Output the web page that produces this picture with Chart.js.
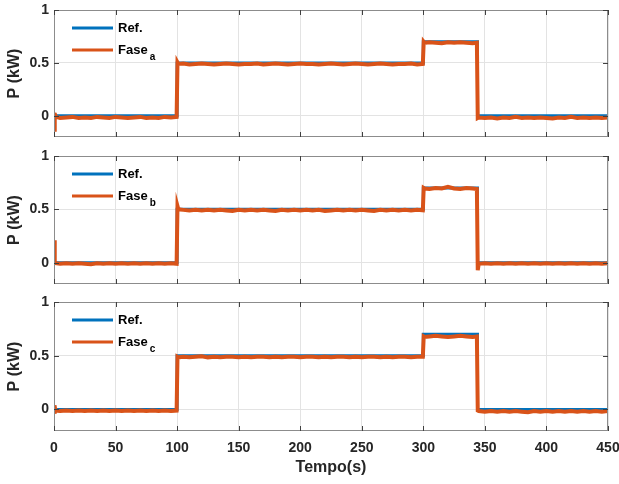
<!DOCTYPE html>
<html>
<head>
<meta charset="utf-8">
<script src="https://cdn.jsdelivr.net/npm/chart.js@4/dist/chart.umd.min.js"></script>
<style>
  body { margin: 0; background: #fff; }
  #wrap { position: relative; width: 619px; height: 484px; }
  canvas { position: absolute; left: 0; }
</style>
</head>
<body>
<div id="wrap">
  <canvas id="graficoA" width="619" height="140" style="top:0px"></canvas>
  <canvas id="graficoB" width="619" height="147" style="top:140px"></canvas>
  <canvas id="graficoC" width="619" height="197" style="top:287px"></canvas>
</div>
<script>
// referencia (escalones)
const tempoRef = [0, 100, 100, 300, 300, 344, 344, 450];
const potRef = [0, 0, 0.5, 0.5, 0.7, 0.7, 0, 0];

// instantes de las medidas por fase
const tempo = [
  0, 0.4, 0.8, 1.5, 5, 10, 15, 20, 25, 30,
  35, 40, 45, 50, 55, 60, 65, 70, 75, 80,
  85, 90, 95, 99.6,
  100.3, 101, 105, 110, 115, 120, 125, 130, 135, 140,
  145, 150, 155, 160, 165, 170, 175, 180, 185, 190,
  195, 200, 205, 210, 215, 220, 225, 230, 235, 240,
  245, 250, 255, 260, 265, 270, 275, 280, 285, 290,
  295, 299.6,
  300.3, 301, 305, 310, 315, 320, 325, 330, 335, 340, 343.5,
  344.2, 345, 350, 355, 360, 365, 370, 375, 380, 385,
  390, 395, 400, 405, 410, 415, 420, 425, 430, 435,
  440, 445, 450
];

const faseA = [
  0.03, -0.15, 0.02, -0.01, -0.02, -0.015, -0.01, -0.02, -0.015, -0.02,
  -0.01, -0.015, -0.02, -0.01, -0.015, -0.02, -0.015, -0.01, -0.02, -0.015,
  -0.02, -0.01, -0.015, -0.01,
  0.505, 0.49, 0.495, 0.485, 0.49, 0.495, 0.49, 0.485, 0.49, 0.495,
  0.49, 0.485, 0.49, 0.49, 0.495, 0.485, 0.49, 0.495, 0.49, 0.485,
  0.49, 0.495, 0.49, 0.49, 0.485, 0.49, 0.495, 0.49, 0.485, 0.49,
  0.495, 0.49, 0.485, 0.49, 0.495, 0.49, 0.485, 0.49, 0.49, 0.495,
  0.485, 0.49,
  0.70, 0.69, 0.695, 0.69, 0.685, 0.695, 0.69, 0.695, 0.69, 0.685, 0.69,
  -0.02, -0.015, -0.02, -0.015, -0.025, -0.015, -0.02, -0.01, -0.02, -0.015,
  -0.02, -0.015, -0.02, -0.025, -0.015, -0.02, -0.01, -0.02, -0.015, -0.02,
  -0.015, -0.02, -0.015
];

const faseB = [
  0.21, 0.12, 0.01, -0.005, -0.01, -0.005, -0.01, -0.005, -0.01, -0.015,
  -0.005, -0.01, -0.005, -0.01, -0.005, -0.01, -0.005, -0.01, -0.005, -0.01,
  -0.005, -0.01, -0.005, -0.01,
  0.53, 0.50, 0.495, 0.49, 0.495, 0.49, 0.495, 0.49, 0.495, 0.49,
  0.485, 0.495, 0.49, 0.495, 0.49, 0.495, 0.49, 0.485, 0.495, 0.49,
  0.495, 0.49, 0.495, 0.49, 0.495, 0.485, 0.49, 0.495, 0.49, 0.495,
  0.49, 0.495, 0.49, 0.485, 0.495, 0.49, 0.495, 0.49, 0.495, 0.49,
  0.495, 0.49,
  0.70, 0.695, 0.69, 0.70, 0.695, 0.71, 0.695, 0.69, 0.70, 0.695, 0.69,
  -0.07, -0.01, -0.005, -0.01, -0.005, -0.01, -0.005, -0.01, -0.005, -0.01,
  -0.005, -0.01, -0.005, -0.01, -0.005, -0.01, -0.005, -0.01, -0.005, -0.01,
  -0.005, -0.01, -0.005
];

const faseC = [
  0.04, -0.04, 0.02, -0.01, -0.015, -0.01, -0.015, -0.01, -0.015, -0.01,
  -0.015, -0.01, -0.015, -0.01, -0.015, -0.01, -0.015, -0.01, -0.015, -0.01,
  -0.015, -0.01, -0.015, -0.01,
  0.49, 0.485, 0.49, 0.485, 0.49, 0.495, 0.485, 0.49, 0.485, 0.49,
  0.49, 0.485, 0.49, 0.485, 0.49, 0.49, 0.485, 0.49, 0.485, 0.49,
  0.49, 0.485, 0.49, 0.49, 0.485, 0.49, 0.485, 0.49, 0.49, 0.485,
  0.49, 0.485, 0.49, 0.49, 0.485, 0.49, 0.485, 0.49, 0.49, 0.485,
  0.49, 0.49,
  0.68, 0.675, 0.68, 0.685, 0.68, 0.675, 0.68, 0.685, 0.68, 0.675, 0.68,
  -0.01, -0.015, -0.02, -0.015, -0.02, -0.015, -0.02, -0.015, -0.02, -0.025,
  -0.015, -0.02, -0.015, -0.02, -0.015, -0.02, -0.015, -0.02, -0.015, -0.02,
  -0.015, -0.02, -0.015
];

const ticksX = [0, 50, 100, 150, 200, 250, 300, 350, 400, 450];
const ticksY = [0, 0.5, 1];

const azul = "#0072BD";
const naranja = "#D95319";
const fuente = '"Liberation Sans", Arial, sans-serif';

// marco con marcas hacia dentro (estilo MATLAB)
const marcoPlugin = {
  id: "marco",
  afterDatasetsDraw(chart) {
    const { ctx, chartArea: a, scales } = chart;
    ctx.save();
    ctx.strokeStyle = "#8c8c8c";
    ctx.lineWidth = 1;
    ctx.strokeRect(Math.round(a.left) + 0.5, Math.round(a.top) + 0.5,
      Math.round(a.right - a.left) - 1, Math.round(a.bottom - a.top) - 1);
    ctx.strokeStyle = "#404040";
    ctx.beginPath();
    ticksX.forEach((v) => {
      const x = Math.round(scales.x.getPixelForValue(v)) + 0.5;
      ctx.moveTo(x, a.bottom); ctx.lineTo(x, a.bottom - 5);
      ctx.moveTo(x, a.top); ctx.lineTo(x, a.top + 5);
    });
    ticksY.forEach((v) => {
      const y = Math.round(scales.y.getPixelForValue(v)) + 0.5;
      ctx.moveTo(a.left, y); ctx.lineTo(a.left + 5, y);
      ctx.moveTo(a.right, y); ctx.lineTo(a.right - 5, y);
    });
    ctx.stroke();
    ctx.restore();
  }
};

// leyenda con subíndice
const leyendaPlugin = {
  id: "leyenda",
  afterDraw(chart, args, opts) {
    const { ctx, chartArea: a } = chart;
    const x0 = a.left + 18;
    const x1 = a.left + 59;
    const yRef = a.top + 18;
    const yFase = a.top + 40;
    ctx.save();
    ctx.lineWidth = 3;
    ctx.strokeStyle = azul;
    ctx.beginPath(); ctx.moveTo(x0, yRef); ctx.lineTo(x1, yRef); ctx.stroke();
    ctx.strokeStyle = naranja;
    ctx.beginPath(); ctx.moveTo(x0, yFase); ctx.lineTo(x1, yFase); ctx.stroke();
    ctx.fillStyle = "#000";
    ctx.textBaseline = "middle";
    ctx.font = "bold 13px " + fuente;
    ctx.fillText("Ref.", x1 + 5, yRef);
    ctx.fillText("Fase", x1 + 5, yFase);
    const w = ctx.measureText("Fase").width;
    ctx.font = "bold 10px " + fuente;
    ctx.fillText(opts.sub, x1 + 5 + w + 2, yFase + 7);
    ctx.restore();
  }
};

function crearGrafico(id, fase, sub, topPad, altoX, conEjeX) {
  const puntosFase = tempo.map((t, i) => ({ x: t, y: fase[i] }));
  const puntosRef = tempoRef.map((t, i) => ({ x: t, y: potRef[i] }));

  return new Chart(document.getElementById(id), {
    type: "line",
    data: {
      datasets: [
        {
          label: "Fase " + sub,
          data: puntosFase,
          borderColor: naranja,
          borderWidth: 4,
          pointRadius: 0,
          tension: 0,
          order: 1
        },
        {
          label: "Ref.",
          data: puntosRef,
          borderColor: azul,
          borderWidth: 3,
          pointRadius: 0,
          tension: 0,
          order: 2
        }
      ]
    },
    options: {
      responsive: false,
      animation: false,
      layout: { padding: { top: topPad, right: 11, left: 0, bottom: 0 } },
      plugins: {
        legend: { display: false },
        tooltip: { enabled: false },
        leyenda: { sub }
      },
      scales: {
        x: {
          type: "linear",
          min: 0,
          max: 450,
          afterBuildTicks: (s) => { s.ticks = ticksX.map((v) => ({ value: v })); },
          afterFit: (s) => {
            s.height = altoX;
            s.paddingLeft = 0;
            s.paddingRight = 0;
          },
          grid: { color: "#e3e3e3", drawTicks: false },
          border: { display: false },
          ticks: {
            display: conEjeX,
            padding: 9,
            color: "#262626",
            font: { family: fuente, size: 14, weight: "bold" }
          },
          title: {
            display: conEjeX,
            text: "Tempo(s)",
            color: "#262626",
            padding: { top: 0, bottom: 7 },
            font: { family: fuente, size: 16, weight: "bold" }
          }
        },
        y: {
          min: -0.2,
          max: 1,
          afterBuildTicks: (s) => { s.ticks = ticksY.map((v) => ({ value: v })); },
          afterFit: (s) => {
            s.width = 54;
            s.paddingTop = 0;
            s.paddingBottom = 0;
          },
          grid: { color: "#e3e3e3", drawTicks: false },
          border: { display: false },
          ticks: {
            padding: 5,
            color: "#262626",
            font: { family: fuente, size: 14, weight: "bold" },
            callback: (v) => String(v)
          },
          title: {
            display: true,
            text: "P (kW)",
            color: "#262626",
            padding: { top: 5, bottom: 0 },
            font: { family: fuente, size: 16, weight: "bold" }
          }
        }
      }
    },
    plugins: [marcoPlugin, leyendaPlugin]
  });
}

crearGrafico("graficoA", faseA, "a", 10, 3, false);
crearGrafico("graficoB", faseB, "b", 16, 3, false);
crearGrafico("graficoC", faseC, "c", 15, 53, true);
</script>
</body>
</html>
